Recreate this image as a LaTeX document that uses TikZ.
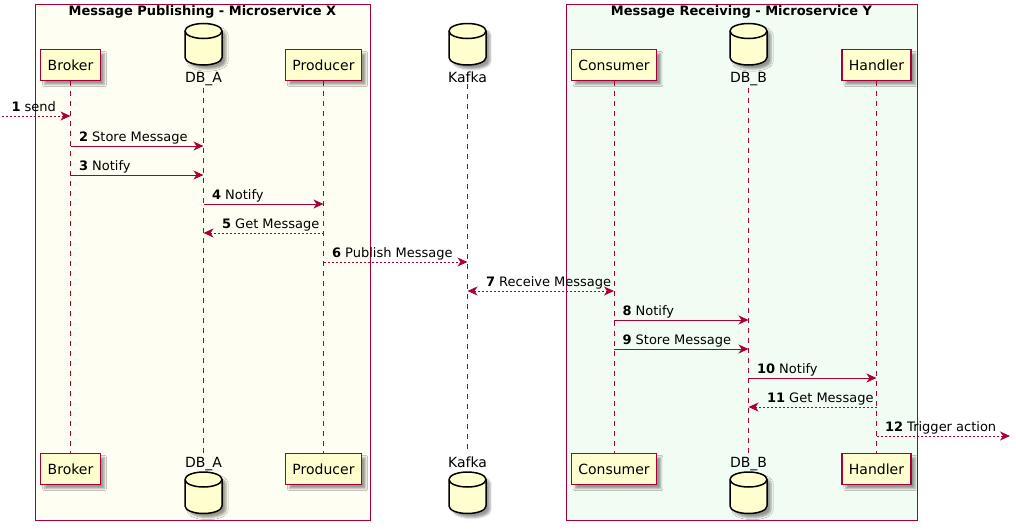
\documentclass[tikz,border=0pt]{standalone}
\usepackage{fontspec}
\setmainfont{DejaVu Sans}
\usetikzlibrary{arrows.meta,positioning,shadows.blur}

\definecolor{umlred}{HTML}{A80036}
\definecolor{umlfill}{HTML}{FEFECE}
\definecolor{boxx}{HTML}{FEFEF2}
\definecolor{boxy}{HTML}{F1FCF3}

\newcommand{\partfont}{\fontsize{14}{16}\selectfont}
\newcommand{\msgfont}{\fontsize{13}{15}\selectfont}

\begin{document}
\begin{tikzpicture}
[
	            x = 1pt, y = -1pt,
	           >= {Stealth[length=10pt, width=9pt, inset=3pt]},
	 umlshadow/.style = { blur shadow={shadow xshift=4pt, shadow yshift=-4pt, shadow blur steps=4, shadow opacity=40} },
	     group/.style = { draw=umlred, line width=1pt },
	    gtitle/.style = { font=\msgfont\bfseries, anchor=base, inner sep=0pt },
	      part/.style = { draw=umlred, line width=1.5pt, fill=umlfill, font=\partfont, inner xsep=7pt, minimum height=31pt, umlshadow },
	   dblabel/.style = { font=\partfont, anchor=base, inner sep=2pt },
	      life/.style = { draw=umlred, line width=1pt, dash pattern=on 5pt off 5pt },
	       msg/.style = { draw=umlred, line width=1pt, -> },
	     reply/.style = { msg, dash pattern=on 2pt off 2pt },
	       lbl/.style = { font=\msgfont, inner sep=0pt, anchor=base west, yshift=5pt },
	     dbcyl/.pic = {
		\path [draw=black, line width=1.5pt, fill=umlfill, umlshadow]
			(-18.5,-13) -- (-18.5,13.5)
			arc [start angle=180, end angle=0, x radius=18.5, y radius=7.5]
			-- (18.5,-13)
			arc [start angle=0, end angle=-180, x radius=18.5, y radius=7.5] -- cycle;
		\draw [line width=1.5pt] (-18.5,-13)
			arc [start angle=180, end angle=0, x radius=18.5, y radius=7.5];
	}
]
	\useasboundingbox (0,0) rectangle (1016,530);

	% groups
	\draw [group, fill=boxx] (35,4) rectangle (370,520);
	\node (gx) at (202.5,16) [gtitle] {Message Publishing - Microservice X};
	\draw [group, fill=boxy] (566.5,4) rectangle (917,520);
	\node (gy) at (741.5,16) [gtitle] {Message Receiving - Microservice Y};

	% participants, top
	\node (brokerT) at (70.5,65)  [part]    {Broker};
	\pic  (dbaT)    at (203.5,44) {dbcyl};
	\node (dbaTl)   at (203.5,82) [dblabel] {DB\_A};
	\node (prodT)   at (323.5,65) [part]    {Producer};
	\pic  (kafkaT)  at (467.5,44) {dbcyl};
	\node (kafkaTl) at (467.5,82) [dblabel] {Kafka};
	\node (consT)   at (614,65)   [part]    {Consumer};
	\pic  (dbbT)    at (748.5,44) {dbcyl};
	\node (dbbTl)   at (748.5,82) [dblabel] {DB\_B};
	\node (handT)   at (876.5,65) [part]    {Handler};

	% participants, bottom
	\node (brokerB) at (70.5,469)    [part]    {Broker};
	\node (dbaBl)   at (203.5,467)   [dblabel] {DB\_A};
	\pic  (dbaB)    at (203.5,492.5) {dbcyl};
	\node (prodB)   at (323.5,469)   [part]    {Producer};
	\node (kafkaBl) at (467.5,467)   [dblabel] {Kafka};
	\pic  (kafkaB)  at (467.5,492.5) {dbcyl};
	\node (consB)   at (614,469)     [part]    {Consumer};
	\node (dbbBl)   at (748.5,467)   [dblabel] {DB\_B};
	\pic  (dbbB)    at (748.5,492.5) {dbcyl};
	\node (handB)   at (876.5,469)   [part]    {Handler};

	% lifelines
	\draw [life] (brokerT) -- (brokerB);
	\draw [life] (dbaTl)   -- (dbaBl);
	\draw [life] (prodT)   -- (prodB);
	\draw [life] (kafkaTl) -- (kafkaBl);
	\draw [life] (consT)   -- (consB);
	\draw [life] (dbbTl)   -- (dbbBl);
	\draw [life] (handT)   -- (handB);

	% message rows
	\coordinate (r1)  at (0,116);
	\coordinate (r2)  at (0,146);
	\coordinate (r3)  at (0,175);
	\coordinate (r4)  at (0,204);
	\coordinate (r5)  at (0,233);
	\coordinate (r6)  at (0,262);
	\coordinate (r7)  at (0,291);
	\coordinate (r8)  at (0,320);
	\coordinate (r9)  at (0,349);
	\coordinate (r10) at (0,378);
	\coordinate (r11) at (0,407);
	\coordinate (r12) at (0,436);
	\coordinate (in1)   at (2,116);
	\coordinate (out12) at (1010,436);

	% messages
	\draw [reply] (in1) -- node [lbl, pos=0, xshift=9pt] {\textbf{1} send} (brokerT |- r1);
	\draw [msg] (brokerT |- r2) -- node [lbl, pos=0, xshift=8pt] {\textbf{2} Store Message} (dbaTl |- r2);
	\draw [msg] (brokerT |- r3) -- node [lbl, pos=0, xshift=8pt] {\textbf{3} Notify} (dbaTl |- r3);
	\draw [msg] (dbaTl |- r4) -- node [lbl, pos=0, xshift=8pt] {\textbf{4} Notify} (prodT |- r4);
	\draw [reply] (prodT |- r5) -- node [lbl, pos=1, xshift=18pt] {\textbf{5} Get Message} (dbaTl |- r5);
	\draw [reply] (prodT |- r6) -- node [lbl, pos=0, xshift=8pt] {\textbf{6} Publish Message} (kafkaTl |- r6);
	\draw [reply, <->] (kafkaTl |- r7) -- node [lbl, pos=0, xshift=18pt] {\textbf{7} Receive Message} (consT |- r7);
	\draw [msg] (consT |- r8) -- node [lbl, pos=0, xshift=8pt] {\textbf{8} Notify} (dbbTl |- r8);
	\draw [msg] (consT |- r9) -- node [lbl, pos=0, xshift=8pt] {\textbf{9} Store Message} (dbbTl |- r9);
	\draw [msg] (dbbTl |- r10) -- node [lbl, pos=0, xshift=8pt] {\textbf{10} Notify} (handT |- r10);
	\draw [reply] (handT |- r11) -- node [lbl, pos=1, xshift=18pt] {\textbf{11} Get Message} (dbbTl |- r11);
	\draw [reply] (handT |- r12) -- node [lbl, pos=0, xshift=8pt] {\textbf{12} Trigger action} (out12);

\end{tikzpicture}
\end{document}
